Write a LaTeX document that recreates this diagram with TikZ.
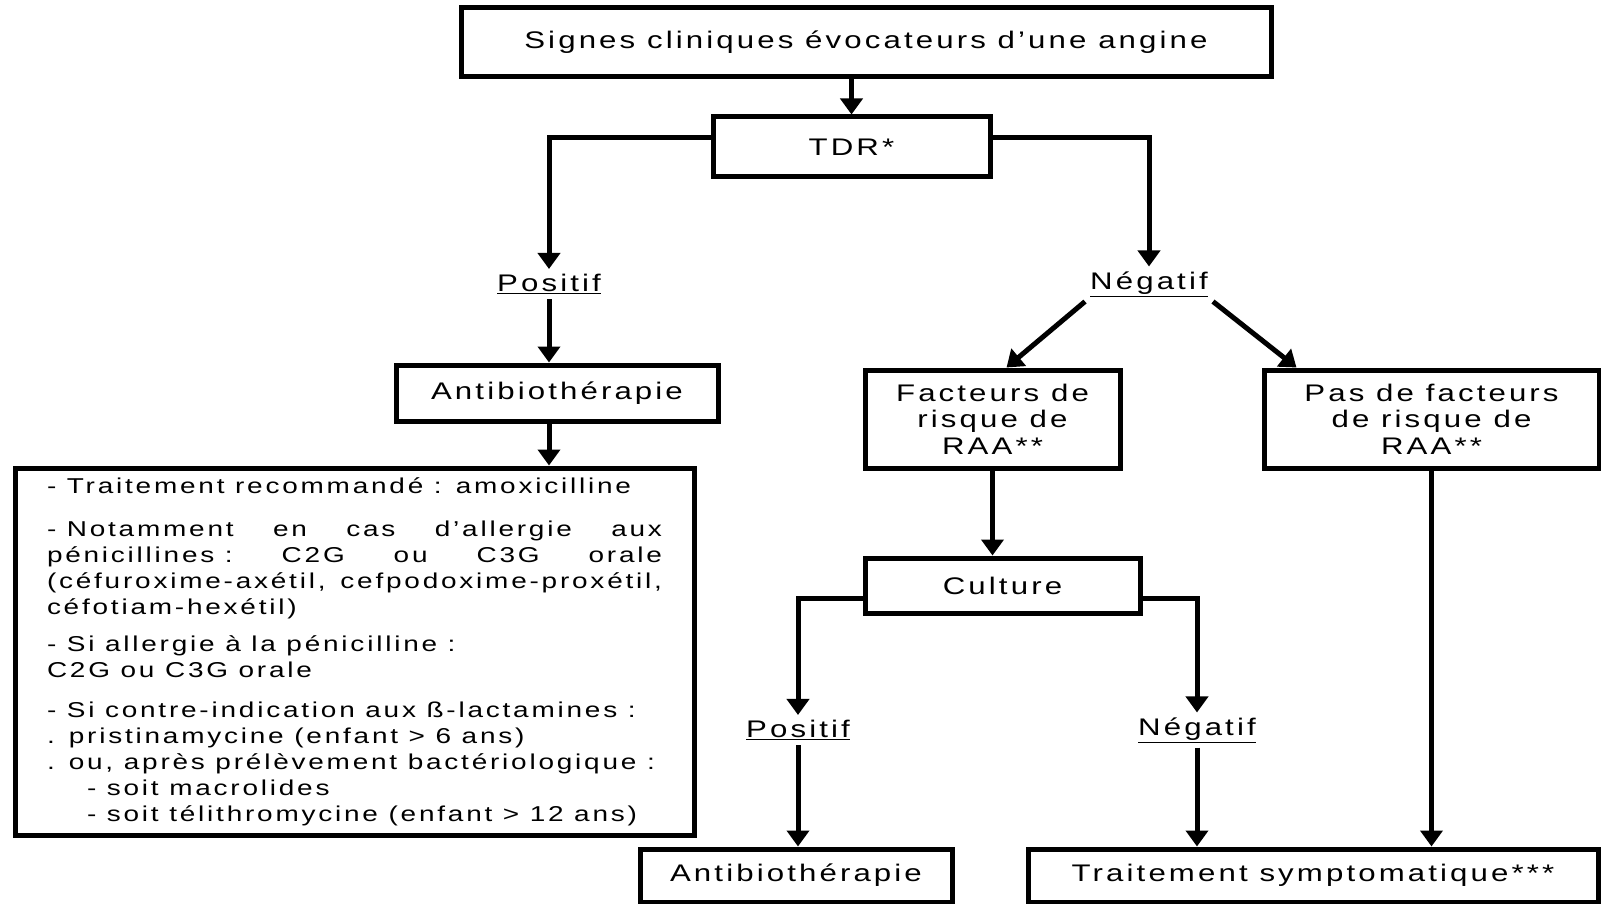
\documentclass[tikz,border=0pt]{standalone}
\usepackage{fontspec}
\setmainfont{Liberation Sans}[FakeStretch=1.3,LetterSpace=13]
\usetikzlibrary{arrows.meta}

\tikzset{
  boite/.style={draw, line width=5pt, inner sep=0pt, align=center, font=\fontsize{24}{26.5}\selectfont},
  etiq/.style={inner sep=5pt, font=\fontsize{24}{26.5}\selectfont},
  fleche/.style={line width=5pt, -{Triangle[width=22pt,length=16pt]}}
}

\begin{document}
\begin{tikzpicture}[x=1pt,y=-1pt]
\useasboundingbox (0,0) rectangle (1601,904);
\node[boite, minimum width=810pt, minimum height=69pt] (signes) at (866,42.5) {Signes cliniques évocateurs d'une angine};
\node[boite, minimum width=277pt, minimum height=60pt] (tdr) at (851.5,147) {TDR*};
\node[etiq] (pos1) at (549,284) {\underline{Positif}};
\node[etiq] (neg1) at (1149,284) {\underline{Négatif}};
\node[boite, minimum width=322pt, minimum height=56pt] (anti1) at (557,393) {Antibiothérapie};
\node[boite, minimum width=679pt, minimum height=367pt, text width=615pt, align=justify,
  font=\fontsize{21.5}{26}\selectfont] (conseils) at (354.5,651.5) {\parindent=0pt
- Traitement recommandé : amoxicilline\par\vspace{17pt}
\mbox{- Notamment} en cas d'allergie aux\linebreak \mbox{pénicillines :} C2G ou C3G orale\linebreak (céfuroxime-axétil, cefpodoxime-proxétil,\linebreak céfotiam-hexétil)\par\vspace{11pt}
- Si allergie à la pénicilline :\\ C2G ou C3G orale\par\vspace{14pt}
- Si contre-indication aux ß-lactamines :\\ . pristinamycine (enfant > 6 ans)\\ . ou, après prélèvement bactériologique :\\ \hspace*{40pt}- soit macrolides\\ \hspace*{40pt}- soit télithromycine (enfant > 12 ans)};
\node[boite, minimum width=255pt, minimum height=98pt] (facteurs) at (992.5,419) {Facteurs de\\risque de\\RAA**};
\node[boite, minimum width=335pt, minimum height=98pt] (pas) at (1431.5,419) {Pas de facteurs\\de risque de\\RAA**};
\node[boite, minimum width=275pt, minimum height=55pt] (culture) at (1002.5,585.5) {Culture};
\node[etiq] (pos2) at (798,730) {\underline{Positif}};
\node[etiq] (neg2) at (1197,730) {\underline{Négatif}};
\node[boite, minimum width=312pt, minimum height=53pt] (anti2) at (796,875.5) {Antibiothérapie};
\node[boite, minimum width=570pt, minimum height=53pt] (symp) at (1313,875.5) {Traitement symptomatique***};

\draw[fleche] (tdr.north |- signes.south) -- (tdr.north);
\draw[fleche] ([yshift=9pt]tdr.west) -| (pos1.north);
\draw[fleche] ([yshift=9pt]tdr.east) -| (neg1.north);
\draw[fleche] (pos1.south) -- (pos1.south |- anti1.north);
\draw[fleche] (anti1.south -| pos1) -- (pos1 |- conseils.north);
\draw[fleche] (neg1.south west) -- ([xshift=14pt]facteurs.north);
\draw[fleche] (neg1.south east) -- ([xshift=-135pt]pas.north);
\draw[fleche] (facteurs.south) -- (facteurs.south |- culture.north);
\draw[fleche] ([yshift=-13pt]culture.west) -| (pos2.north);
\draw[fleche] ([yshift=-13pt]culture.east) -| (neg2.north);
\draw[fleche] (pos2.south) -- (pos2.south |- anti2.north);
\draw[fleche] (neg2.south) -- (neg2.south |- symp.north);
\draw[fleche] (pas.south) -- (pas.south |- symp.north);
\end{tikzpicture}
\end{document}
